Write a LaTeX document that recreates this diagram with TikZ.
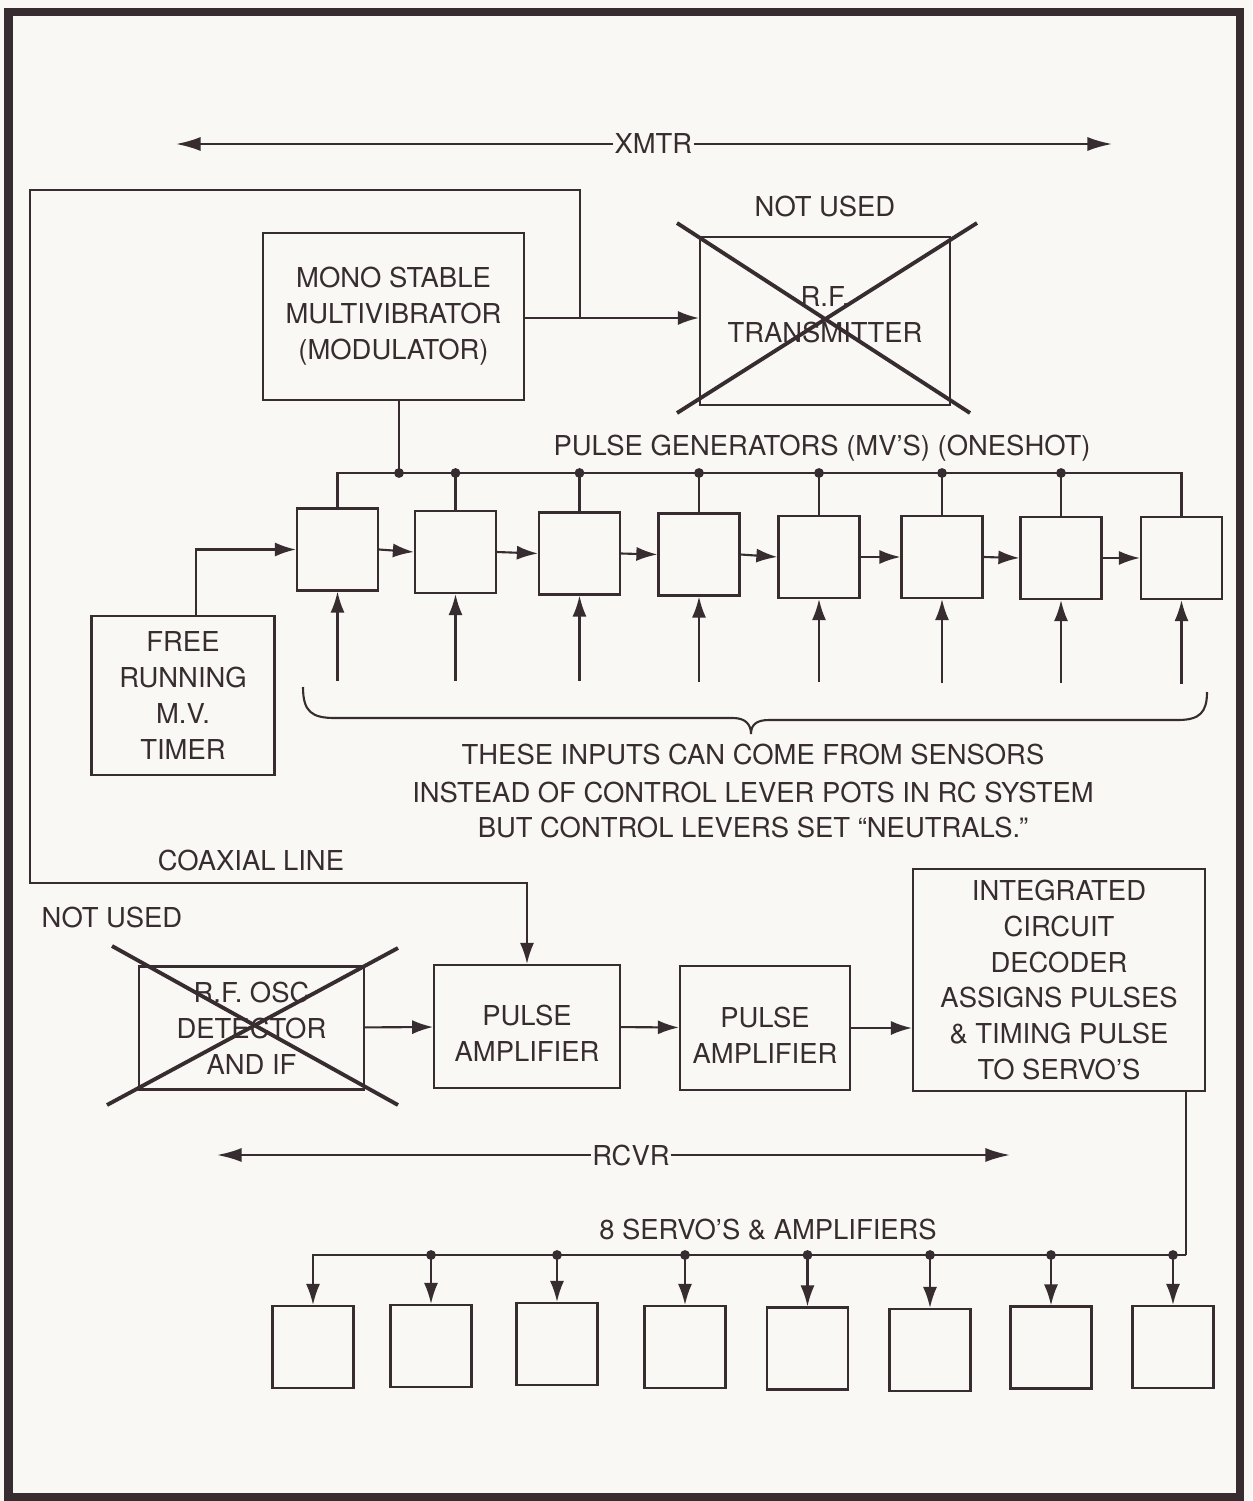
\documentclass[tikz,border=0pt]{standalone}
\usepackage{fontspec}
\setmainfont{TeX Gyre Heros}
\usetikzlibrary{arrows.meta}

\definecolor{ink}{RGB}{55,45,48}
\definecolor{paper}{RGB}{249,248,244}

\tikzset{
  blk/.style={draw=ink, line width=1.2pt, align=center, inner sep=0pt, text=ink},
  cell/.style={blk, minimum width=1.62cm, minimum height=1.64cm},
  wire/.style={draw=ink, line width=1.2pt},
  nogo/.style={draw=ink, line width=2.2pt},
  lbl/.style={text=ink, inner sep=1pt},
  span/.style={wire, {Latex[length=14pt,width=8pt]}-{Latex[length=14pt,width=8pt]}},
}

\begin{document}
\begin{tikzpicture}[x=0.02cm, y=-0.02cm, >={Latex[length=12pt,width=8pt]},
  font=\fontsize{15.6}{20.4}\selectfont]

  \fill[paper] (0,0) rectangle (1252,1501);
  \useasboundingbox (0,0) rectangle (1252,1501);
  \draw[ink, line width=4.8pt] (8.5,12) rectangle (1240,1497);

  % transmitter side
  \coordinate (xmtrL) at (176,144);
  \coordinate (xmtrR) at (1112,144);
  \draw[span] (xmtrL) -- (xmtrR) node[lbl, fill=paper, pos=0.51] (xmtr) {XMTR};

  \node[blk, minimum width=5.22cm, minimum height=3.34cm] (mono) at (393.5,316.5)
    {MONO STABLE\\MULTIVIBRATOR\\(MODULATOR)};
  \node[blk, minimum width=5cm, minimum height=3.36cm, text depth=7pt] (rftx) at (825,321)
    {R.F.\\TRANSMITTER};
  \node[lbl] (nu1) at (825,207) {NOT USED};
  \draw[nogo] (677,223) -- (970,413);
  \draw[nogo] (977,223) -- (677,413);

  \coordinate (tap) at (580,318);
  \draw[wire, ->] (mono.east |- tap) -- (rftx.west |- tap);

  % pulse generators (one-shots)
  \node[lbl] (pgen) at (822,448) {PULSE GENERATORS (MV'S) (ONESHOT)};
  \node[cell] (g1) at (337.5,549.5) {};
  \node[cell] (g2) at (455.5,552) {};
  \node[cell] (g3) at (579.5,553.5) {};
  \node[cell] (g4) at (699,554.5) {};
  \node[cell] (g5) at (819,557) {};
  \node[cell] (g6) at (942,557) {};
  \node[cell] (g7) at (1061,558) {};
  \node[cell] (g8) at (1181.5,558) {};

  \draw[wire, ->] (g1.east) -- (g2.west);
  \draw[wire, ->] (g2.east) -- (g3.west);
  \draw[wire, ->] (g3.east) -- (g4.west);
  \draw[wire, ->] (g4.east) -- (g5.west);
  \draw[wire, ->] (g5.east) -- (g6.west);
  \draw[wire, ->] (g6.east) -- (g7.west);
  \draw[wire, ->] (g7.east) -- (g8.west);

  % bus from the modulator
  \coordinate (mv) at (399,473);
  \draw[wire] (mono.south -| mv) -- (mv);
  \draw[wire] (g1.north) |- (g8.north |- mv) -- (g8.north);
  \draw[wire] (g2.north |- mv) -- (g2.north);
  \draw[wire] (g3.north |- mv) -- (g3.north);
  \draw[wire] (g4.north |- mv) -- (g4.north);
  \draw[wire] (g5.north |- mv) -- (g5.north);
  \draw[wire] (g6.north |- mv) -- (g6.north);
  \draw[wire] (g7.north |- mv) -- (g7.north);
  \fill[ink] (mv) circle (2.8pt);
  \fill[ink] (g2.north |- mv) circle (2.8pt);
  \fill[ink] (g3.north |- mv) circle (2.8pt);
  \fill[ink] (g4.north |- mv) circle (2.8pt);
  \fill[ink] (g5.north |- mv) circle (2.8pt);
  \fill[ink] (g6.north |- mv) circle (2.8pt);
  \fill[ink] (g7.north |- mv) circle (2.8pt);

  % timer
  \node[blk, minimum width=3.66cm, minimum height=3.18cm] (fr) at (183,695.5)
    {FREE\\RUNNING\\M.V.\\TIMER};
  \coordinate (frout) at (195.6,616);
  \draw[wire, ->] (frout) |- (g1.west);

  % control inputs
  \draw[wire, ->] (g1.south |- 0,681) -- (g1.south);
  \draw[wire, ->] (g2.south |- 0,681) -- (g2.south);
  \draw[wire, ->] (g3.south |- 0,681) -- (g3.south);
  \draw[wire, ->] (g4.south |- 0,682) -- (g4.south);
  \draw[wire, ->] (g5.south |- 0,682) -- (g5.south);
  \draw[wire, ->] (g6.south |- 0,683) -- (g6.south);
  \draw[wire, ->] (g7.south |- 0,683) -- (g7.south);
  \draw[wire, ->] (g8.south |- 0,684) -- (g8.south);

  \draw[wire] (303,687) .. controls (303,712) and (312,718) .. (335,718)
    -- (733,718) .. controls (746,718) and (751,725) .. (751,734)
    .. controls (751,725) and (756,720) .. (769,720)
    -- (1178,720) .. controls (1200,720) and (1207,712) .. (1207,692);

  \node[lbl] (note1) at (753,755) {THESE INPUTS CAN COME FROM SENSORS};
  \node[lbl] (note2) at (753,792) {INSTEAD OF CONTROL LEVER POTS IN RC SYSTEM};
  \node[lbl] (note3) at (753,827) {BUT CONTROL LEVERS SET ``NEUTRALS.''};

  % receiver side
  \node[lbl] (coax) at (251,860) {COAXIAL LINE};
  \node[lbl] (nu2) at (112,917) {NOT USED};

  \node[blk, minimum width=4.5cm, minimum height=2.46cm] (rfosc) at (251.5,1028)
    {R.F. OSC\\DETECTOR\\AND IF};
  \draw[nogo] (112,946) -- (398,1105);
  \draw[nogo] (107,1105) -- (398,948);

  \node[blk, minimum width=3.71cm, minimum height=2.46cm, text height=40pt] (pa1) at (527,1026.5)
    {PULSE\\AMPLIFIER};
  \node[blk, minimum width=3.4cm, minimum height=2.48cm, text height=40pt] (pa2) at (765,1028)
    {PULSE\\AMPLIFIER};
  \node[blk, minimum width=5.84cm, minimum height=4.44cm] (dec) at (1059,980)
    {INTEGRATED\\CIRCUIT\\DECODER\\ASSIGNS PULSES\\\& TIMING PULSE\\TO SERVO'S};

  \draw[wire, ->] (tap) -- (580,190) -- (30,190) -- (30,883) -| (pa1.north);
  \draw[wire, ->] (rfosc) -- (pa1);
  \draw[wire, ->] (pa1) -- (pa2);
  \draw[wire, ->] (pa2.east) -- (pa2.east -| dec.west);

  \coordinate (rcvrL) at (217,1155);
  \coordinate (rcvrR) at (1010,1155);
  \draw[span] (rcvrL) -- (rcvrR) node[lbl, fill=paper, pos=0.522] (rcvr) {RCVR};

  % servos
  \node[lbl] (srv) at (768,1230) {8 SERVO'S \& AMPLIFIERS};
  \node[cell] (s1) at (313,1347) {};
  \node[cell] (s2) at (431,1346) {};
  \node[cell] (s3) at (557,1344) {};
  \node[cell] (s4) at (685,1347) {};
  \node[cell] (s5) at (807.5,1348.5) {};
  \node[cell] (s6) at (930,1350) {};
  \node[cell] (s7) at (1051,1347.5) {};
  \node[cell] (s8) at (1173,1347) {};

  \coordinate (sb) at (1186,1255);
  \draw[wire] (dec.south -| sb) -- (sb);
  \draw[wire, ->] (sb) -| (s1.north);
  \draw[wire, ->] (s2.north |- sb) -- (s2.north);
  \draw[wire, ->] (s3.north |- sb) -- (s3.north);
  \draw[wire, ->] (s4.north |- sb) -- (s4.north);
  \draw[wire, ->] (s5.north |- sb) -- (s5.north);
  \draw[wire, ->] (s6.north |- sb) -- (s6.north);
  \draw[wire, ->] (s7.north |- sb) -- (s7.north);
  \draw[wire, ->] (s8.north |- sb) -- (s8.north);
  \fill[ink] (s2.north |- sb) circle (2.8pt);
  \fill[ink] (s3.north |- sb) circle (2.8pt);
  \fill[ink] (s4.north |- sb) circle (2.8pt);
  \fill[ink] (s5.north |- sb) circle (2.8pt);
  \fill[ink] (s6.north |- sb) circle (2.8pt);
  \fill[ink] (s7.north |- sb) circle (2.8pt);
  \fill[ink] (s8.north |- sb) circle (2.8pt);

\end{tikzpicture}
\end{document}
